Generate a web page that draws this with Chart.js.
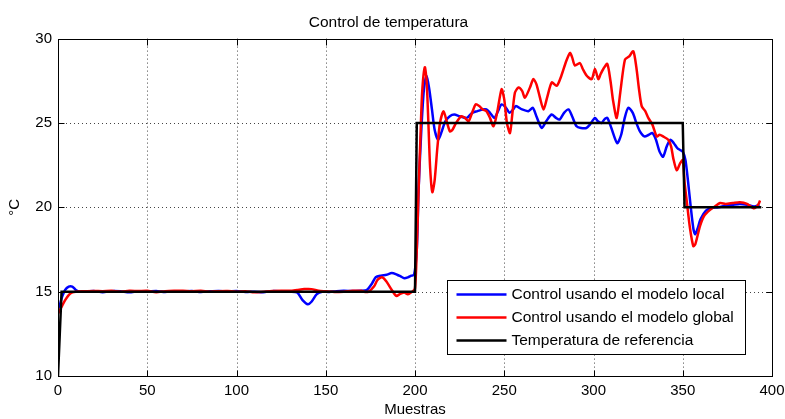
<!DOCTYPE html>
<html>
<head>
<meta charset="utf-8">
<title>Control de temperatura</title>
<script src="https://cdn.jsdelivr.net/npm/chart.js@4.4.1/dist/chart.umd.min.js"></script>
<style>
  html, body { margin: 0; padding: 0; background: #fff; }
  #wrap { width: 785px; height: 419px; }
</style>
</head>
<body>
<div id="wrap"><canvas id="tempChart" width="785" height="419"></canvas></div>
<script>
// Tick labels
const xTicks = [0, 50, 100, 150, 200, 250, 300, 350, 400];
const yTicks = [10, 15, 20, 25, 30];

// Reference temperature (black)
const refX = [0, 1, 2, 200, 201, 350, 351, 394];
const refY = [10, 12.5, 15, 15, 25, 25, 20, 20];

// Control with local model (blue)
const localX = [0, 1, 2, 4, 6, 8, 10, 12, 16, 20, 25, 30, 35, 40, 45, 50, 55, 60, 65, 70, 75, 80, 85, 90, 95,
  100, 105, 110, 115, 120, 125, 130, 134, 137, 140, 142, 145, 148, 152, 156, 160, 165, 170, 173, 176, 178,
  181, 184, 187, 190, 192, 194, 196, 198, 199.5, 201, 202, 203.5, 205, 206.5, 208, 209.5, 211, 213, 215,
  217, 219.5, 222, 225, 229, 232, 235, 238, 240, 242, 244.5, 246.5, 248.5, 251, 253, 255, 256.5, 260,
  263.5, 266, 268, 271, 273.5, 276.5, 279, 281, 283.5, 286, 288, 290.5, 293, 296, 298, 300.8, 302.5,
  304.5, 306, 307.7, 310, 313.3, 315.5, 317.5, 319.5, 322, 324, 326, 328.5, 331, 333, 335, 337, 339,
  341, 343, 345, 347, 348.5, 350, 351.5, 353, 354.5, 356, 357, 358.5, 360, 363, 366, 370, 374, 378,
  382, 386, 390, 393];
const localY = [14.0, 14.2, 14.6, 15.1, 15.3, 15.3, 15.1, 15.0, 15.0, 15.04, 14.97, 15.03, 15.02, 14.96, 15.03,
  15.0, 15.04, 14.98, 15.03, 15.0, 15.04, 14.98, 15.02, 15.04, 15.0,
  15.04, 14.98, 15.0, 14.97, 15.03, 15.02, 15.0, 14.95, 14.5, 14.25, 14.4, 14.85, 15.0, 14.98, 15.03,
  15.05, 15.04, 15.05, 15.1, 15.5, 15.85,
  15.95, 16.0, 16.1, 16.0, 15.9, 15.8, 15.85, 15.95, 16.0, 17.5, 21, 24.5, 27.0, 27.8, 27.0, 25.8, 24.6,
  24.0, 24.5,
  25.1, 25.4, 25.5, 25.4, 25.3, 25.6, 25.7, 25.8, 25.8, 25.6, 25.3, 25.7, 26.1, 25.9, 25.6, 25.8, 26.0,
  25.8,
  25.7, 25.9, 25.4, 24.7, 25.1, 25.5, 25.3, 25.2, 25.6, 25.8, 25.4, 24.8, 24.7, 24.7, 24.9, 25.3, 25.1,
  25.0, 25.2, 25.3, 24.7, 23.8, 24.3, 25.3, 25.9, 25.6, 25.0, 24.5, 24.2, 24.3, 24.4, 24.0, 23.3, 23.0,
  23.6, 24.0, 23.8, 23.5, 23.4, 23.3, 22.8, 21.5, 20.0, 18.7, 18.4, 18.8, 19.3, 19.8, 19.95, 20.0, 20.1,
  20.15, 20.2, 20.15, 20.05, 20.15];

// Control with global model (red)
const globalX = [0, 1, 2, 4, 6, 8, 10, 14, 20, 25, 30, 35, 40, 45, 50, 55, 60, 65, 70, 75, 80, 85, 90, 95,
  100, 105, 110, 115, 120, 125, 130, 134, 138, 142, 146, 150, 155, 160, 165, 170, 172, 174, 177, 179,
  181.5, 184, 187, 189.5, 191.5, 194, 196, 198.5, 200, 201, 202, 203, 204, 205.5, 206.5, 207.5, 208.5,
  209.7, 211, 212.5, 214, 216, 218, 219.6, 221, 223, 226, 228, 230, 232, 234, 236, 238, 240, 242, 244,
  246, 248.5, 250, 251.5, 253.2, 254.5, 256, 258, 260, 261.6, 264.4, 266.3, 268, 270, 272, 274, 276.6,
  279.4, 282, 284.5, 286.8, 288, 289.6, 292.4, 294, 296.2, 299, 300.8, 302.7, 304, 305.5, 307.7, 309.5,
  311, 313, 315, 317.6, 320, 322.3, 324, 325.5, 327, 329, 330.7, 333, 335.4, 337, 339, 341.9, 343.5,
  344.7, 346.6, 348.5, 350, 351, 352.2, 354, 355.9, 357, 359.7, 362, 365.3, 368, 370.9, 374, 378, 382,
  386, 389.5, 391, 392.5, 393.3];
const globalY = [13.7, 13.9, 14.1, 14.5, 14.8, 14.95, 15.0, 15.02, 15.04, 15.03, 15.05, 15.0, 15.05, 15.04,
  15.05, 14.97, 15.03, 15.05, 15.05, 15.03, 15.05, 15.0, 15.03, 15.04,
  15.0, 15.03, 14.96, 15.0, 15.04, 15.05, 15.05, 15.1, 15.15, 15.15, 15.05, 15.02, 14.98, 15.0, 15.05,
  15.05, 14.98, 15.0, 15.3, 15.7,
  15.85, 15.6, 15.1, 14.75, 14.85, 14.95, 14.85, 15.0, 15.2, 17.5, 21, 24, 26.8, 28.3, 27.5, 25, 22.3,
  20.9, 21.6, 23.5, 25.0, 25.7, 25.0, 24.5, 24.6, 25.0, 25.4, 25.3, 25.1, 25.6, 26.1, 26.0, 25.8, 25.7,
  25.3, 24.8,
  25.6, 27.0, 26.4, 25.0, 24.4, 25.5, 26.8, 27.1, 26.9, 26.5, 27.1, 27.6, 27.3, 26.5, 25.8, 26.5, 27.4,
  27.2, 27.8, 28.6, 29.15, 28.9, 28.4, 28.55, 28.2, 27.8, 27.6, 28.2, 27.6, 27.9, 28.2, 28.5, 27.5,
  26.3, 25.3, 26.8, 28.75, 28.95, 29.25, 28.3, 27.0, 26.0, 25.7, 25.3, 24.9, 24.2, 24.3, 24.2, 24.0, 23.6,
  22.9, 22.2, 22.6, 22.8, 21.5, 20.4, 18.8, 17.7, 17.8, 18.9, 19.5, 19.85, 20.05, 20.25, 20.2, 20.25, 20.3,
  20.2, 19.95, 20.0, 20.2, 20.4];

function toPoints(xs, ys) {
  return xs.map((x, i) => ({ x: x, y: ys[i] }));
}

const FONT = '"Liberation Sans", Arial, Helvetica, sans-serif';

// Grid, inward ticks, frame and legend in the MATLAB style
const matlabAxes = {
  id: 'matlabAxes',
  beforeDatasetsDraw(chart) {
    const { ctx, chartArea: a, scales: { x, y } } = chart;
    ctx.save();
    ctx.strokeStyle = '#444';
    ctx.lineWidth = 1;
    ctx.setLineDash([1, 3]);
    xTicks.slice(1, -1).forEach(v => {
      const px = Math.round(x.getPixelForValue(v)) + 0.5;
      ctx.beginPath(); ctx.moveTo(px, a.top); ctx.lineTo(px, a.bottom); ctx.stroke();
    });
    yTicks.slice(1, -1).forEach(v => {
      const py = Math.round(y.getPixelForValue(v)) + 0.5;
      ctx.beginPath(); ctx.moveTo(a.left, py); ctx.lineTo(a.right, py); ctx.stroke();
    });
    ctx.restore();
  },
  afterDatasetsDraw(chart) {
    const { ctx, chartArea: a, scales: { x, y } } = chart;
    ctx.save();
    ctx.strokeStyle = '#000';
    ctx.lineWidth = 1;
    const L = Math.round(a.left) + 0.5, R = Math.round(a.right) + 0.5;
    const T = Math.round(a.top) + 0.5, B = Math.round(a.bottom) + 0.5;
    ctx.strokeRect(L, T, R - L, B - T);
    const tl = 6;
    ctx.beginPath();
    xTicks.forEach(v => {
      const px = Math.round(x.getPixelForValue(v)) + 0.5;
      ctx.moveTo(px, B); ctx.lineTo(px, B - tl);
      ctx.moveTo(px, T); ctx.lineTo(px, T + tl);
    });
    yTicks.forEach(v => {
      const py = Math.round(y.getPixelForValue(v)) + 0.5;
      ctx.moveTo(L, py); ctx.lineTo(L + tl, py);
      ctx.moveTo(R, py); ctx.lineTo(R - tl, py);
    });
    ctx.stroke();

    // legend box
    const bx = 447.5, by = 280.5, bw = 298, bh = 74;
    ctx.fillStyle = '#fff';
    ctx.fillRect(bx, by, bw, bh);
    ctx.strokeRect(bx, by, bw, bh);
    ctx.font = '15.5px ' + FONT;
    ctx.textBaseline = 'middle';
    ctx.textAlign = 'left';
    chart.data.datasets.forEach((ds, i) => {
      const ly = by + 14 + i * 23;
      ctx.strokeStyle = ds.borderColor;
      ctx.lineWidth = 2.5;
      ctx.beginPath(); ctx.moveTo(bx + 9, ly); ctx.lineTo(bx + 59, ly); ctx.stroke();
      ctx.fillStyle = '#000';
      ctx.fillText(ds.label, bx + 64, ly);
    });
    ctx.restore();
  }
};

const ctx = document.getElementById('tempChart').getContext('2d');
new Chart(ctx, {
  type: 'line',
  data: {
    datasets: [
      { label: 'Control usando el modelo local', data: toPoints(localX, localY),
        borderColor: '#0000ff', borderWidth: 2.5, pointRadius: 0, tension: 0.25, order: 3 },
      { label: 'Control usando el modelo global', data: toPoints(globalX, globalY),
        borderColor: '#ff0000', borderWidth: 2.5, pointRadius: 0, tension: 0.25, order: 2 },
      { label: 'Temperatura de referencia', data: toPoints(refX, refY),
        borderColor: '#000000', borderWidth: 2.5, pointRadius: 0, tension: 0, order: 1 }
    ]
  },
  options: {
    responsive: false,
    animation: false,
    devicePixelRatio: 1,
    layout: { padding: { top: 0, right: 13, bottom: 0, left: 5 } },
    plugins: {
      legend: { display: false },
      tooltip: { enabled: false },
      title: {
        display: true,
        text: 'Control de temperatura',
        color: '#000',
        font: { family: FONT, size: 15.5, weight: 'normal' },
        padding: { top: 13, bottom: 7 }
      }
    },
    scales: {
      x: {
        type: 'linear', min: 0, max: 400,
        grid: { display: false, drawTicks: false },
        border: { display: false },
        afterBuildTicks: s => { s.ticks = xTicks.map(v => ({ value: v })); },
        afterFit: s => { s.height = 43; s.paddingLeft = 0; s.paddingRight = 0; },
        ticks: { color: '#000', font: { family: FONT, size: 15 }, padding: 6, maxRotation: 0 },
        title: { display: true, text: 'Muestras', color: '#000',
          font: { family: FONT, size: 15 }, padding: { top: 0, bottom: 0 } }
      },
      y: {
        type: 'linear', min: 10, max: 30,
        grid: { display: false, drawTicks: false },
        border: { display: false },
        afterBuildTicks: s => { s.ticks = yTicks.map(v => ({ value: v })); },
        afterFit: s => { s.width = 53; },
        ticks: { color: '#000', font: { family: FONT, size: 15 }, padding: 6 },
        title: { display: true, text: '°C', color: '#000',
          font: { family: FONT, size: 15 }, padding: { top: 1, bottom: 0 } }
      }
    }
  },
  plugins: [matlabAxes]
});
</script>
</body>
</html>
